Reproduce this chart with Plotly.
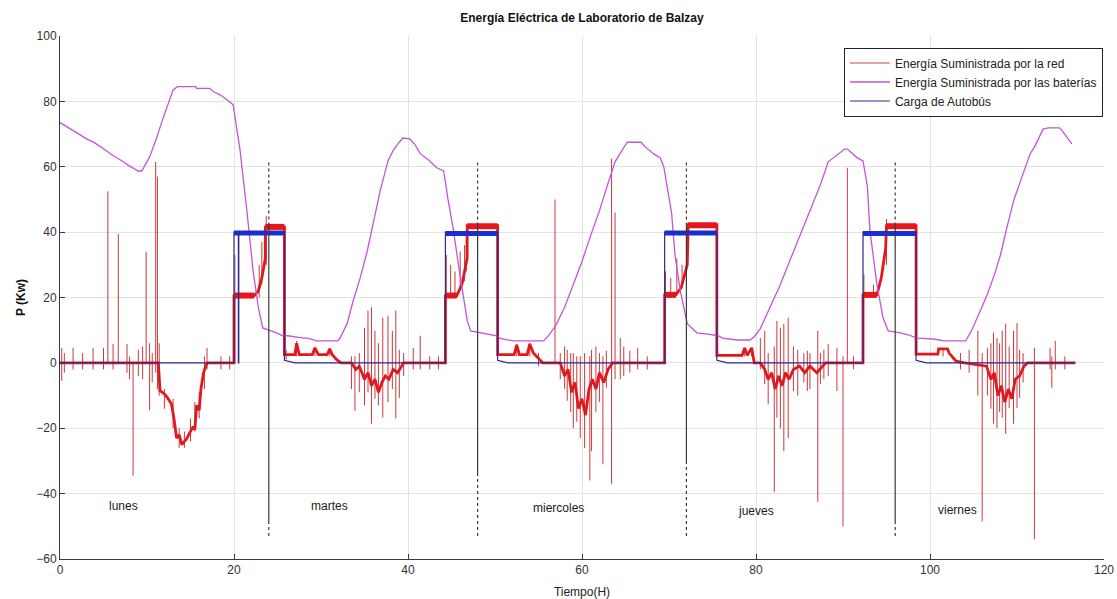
import plotly.graph_objects as go

# ---------------- data ----------------
# Energy supplied by the batteries (kW)
bat_t = [0, 1, 2, 3, 4, 5, 6, 7, 8, 9.0, 9.4, 10.3, 11.0, 11.8, 12.5, 13.0, 13.5, 15.6, 15.7, 17.2,
         17.6, 18.4, 19.2, 19.9, 20.3, 20.7, 21.5, 22.2, 22.8, 23.3, 24.0, 24.9, 25.6, 26.2, 28.0, 28.5,
         29.5, 31.9, 32.2, 33.0, 33.7, 34.5, 35.3, 36.0, 36.8, 37.7, 38.3, 39.0, 39.4, 40.2, 40.8, 41.4,
         42.4, 43.3, 44.1, 44.6, 45.2, 45.8, 46.4, 46.8, 47.2, 48.2, 49.2, 50.2, 50.6, 52.1, 55.6, 56.2,
         57.0, 58.0, 59.0, 60.0, 61.0, 62.0, 63.0, 63.8, 64.6, 65.2, 66.8, 67.3, 68.2, 69.0,
         69.4, 70.3, 70.7, 71.3, 72.1, 73.2, 74.5, 75.6, 76.2, 77.8, 79.3, 79.8, 80.5, 81.6, 82.8, 83.7,
         84.7, 85.6, 86.6, 87.4, 88.3, 90.2, 90.5, 91.0, 91.6, 92.3, 92.8, 93.1, 93.9, 94.6, 95.2, 96.6,
         97.5, 98.5, 100.4, 101.6, 104.1, 104.8, 105.4, 106.6, 107.4, 108.1, 108.8, 109.6, 110.4, 111.0,
         111.5, 112.0, 112.6, 113.0, 113.6, 114.9, 115.2, 115.7, 116.3]
bat_p = [73.5, 72.0, 70.3, 68.6, 67.3, 65.5, 63.6, 62.0, 60.2, 58.7, 58.7, 63.0, 68.0, 74.5, 79.5, 83.5, 84.5, 84.5, 84.0, 84.0,
         83.0, 82.0, 80.5, 79.0, 72.0, 65.0, 46.0, 28.0, 17.0, 10.7, 10.0, 9.2, 8.3, 8.3, 7.6, 7.6,
         6.7, 6.7, 7.6, 12.0, 19.0, 26.0, 34.0, 43.0, 52.6, 61.8, 65.0, 67.5, 68.8, 68.5, 66.8, 64.0,
         62.0, 59.7, 58.7, 50.0, 41.0, 30.0, 19.0, 13.0, 9.8, 9.3, 8.8, 8.3, 7.5, 6.7, 6.7, 8.5,
         11.5, 17.0, 24.0, 31.0, 39.0, 46.5, 55.0, 61.5, 65.0, 67.5, 67.5, 66.0, 64.0, 62.7,
         60.0, 45.8, 32.7, 22.0, 12.0, 9.2, 8.8, 8.3, 7.6, 7.0, 7.0, 8.0, 10.5, 17.0, 24.0, 30.0,
         36.5, 42.5, 49.0, 54.5, 61.5, 65.4, 65.4, 64.2, 62.8, 61.8, 54.0, 40.4, 24.0, 13.8, 9.8, 9.2,
         8.6, 7.6, 7.3, 6.7, 6.7, 10.0, 13.8, 21.0, 27.0, 33.0, 41.0, 49.5, 55.6, 60.0,
         63.9, 66.0, 69.5, 71.5, 71.9, 71.9, 71.0, 69.0, 67.0]

# Bus charging load (kW)
load_t = [0, 20.0, 20.0, 20.5, 20.5, 20.55, 20.55, 25.8, 25.8, 27.0, 44.3, 44.3, 50.3, 50.3, 51.5,
          69.5, 69.5, 75.5, 75.5, 76.7, 92.3, 92.3, 98.4, 98.4, 99.6, 116.7]
load_p = [0, 0, 40.0, 40.0, 0, 0, 40.0, 40.0, 0.8, 0, 0, 40.0, 40.0, 0.8, 0,
          0, 40.0, 40.0, 0.8, 0, 0, 40.0, 40.0, 0.8, 0, 0]
# noisy 40 kW plateau while the bus is charging
plateau_start = [20.0, 44.3, 69.5, 92.3]
plateau_end = [25.8, 50.3, 75.5, 98.4]
plateau_level = [39.7, 39.6, 39.7, 39.6]

# Energy supplied by the grid (kW): slow trend
grid_t = [0, 11.3, 11.5, 12.0, 12.3, 12.8, 13.1, 13.4, 13.7, 14.0, 14.3, 14.5, 14.9, 15.3, 15.5, 15.7,
          16.0, 16.2, 16.5, 16.9, 20.0,
          20.0, 22.3, 22.8, 23.2, 23.6, 23.6, 25.8, 25.8, 27.0, 27.2, 27.5, 29.0, 29.3, 29.7, 30.7,
          31.0, 31.3, 31.8, 32.3, 33.5, 34.0, 34.4, 35.0, 35.4, 35.8, 36.2, 36.6, 37.0, 37.4, 37.8,
          38.3, 38.8, 39.5, 44.3,
          44.3, 45.6, 46.2, 46.8, 46.8, 50.3, 50.3, 52.2, 52.5, 52.8, 53.7, 54.0, 54.4, 55.5, 57.5,
          58.0, 58.4, 58.8, 59.2, 59.6, 60.0, 60.4, 60.8, 61.2, 61.6, 62.0, 62.5, 63.0, 63.5, 69.5,
          69.5, 70.8, 71.4, 72.1, 72.2, 75.5, 75.5, 78.4, 78.7, 79.0, 79.5, 79.8, 80.5,
          81.0, 81.4, 81.8, 82.2, 82.6, 83.0, 83.4, 83.8, 84.3, 85.0, 85.6, 86.2, 87.0, 88.0, 92.3,
          92.3, 93.9, 94.4, 94.9, 95.0, 98.4, 98.4, 100.9, 101.0, 102.0, 102.2, 103.0, 104.0,
          106.5, 107.0, 107.4, 107.8, 108.2, 108.6, 109.0, 109.4, 109.8, 110.3, 110.8, 111.2, 116.7]
grid_p = [0, 0, -8.5, -9.5, -10.5, -12.5, -17.0, -23.0, -22.0, -25.0, -24.0, -23.5, -21.5, -19.5, -20.5, -13.0,
          -14.5, -8.0, -3.0, 0, 0,
          20.5, 20.5, 22.0, 26.0, 32.0, 41.5, 41.5, 2.5, 2.5, 6.0, 2.5, 2.5, 4.6, 2.5, 2.5,
          4.3, 2.5, 1.0, 0, 0, -2.0, -1.0, -5.0, -3.0, -7.0, -5.0, -9.0, -6.0, -4.0, -5.0,
          -2.0, -3.0, 0, 0,
          20.5, 20.5, 24.0, 32.0, 42.0, 42.0, 2.5, 2.5, 5.5, 2.5, 2.5, 5.8, 3.0, 0, 0,
          -4.0, -2.0, -9.0, -6.0, -14.0, -11.0, -16.0, -8.0, -5.0, -8.0, -3.0, -6.0, -2.0, 0, 0,
          20.8, 20.8, 23.0, 30.0, 42.3, 42.3, 2.3, 2.3, 4.6, 2.3, 4.6, 0, 0,
          -2.0, -5.0, -3.0, -8.0, -4.0, -7.0, -3.0, -5.0, -2.0, -1.0, -3.0, -1.0, -3.0, 0, 0,
          20.8, 20.8, 26.0, 35.0, 42.0, 42.0, 2.7, 2.7, 4.3, 4.3, 3.0, 0.5, 0,
          -1.0, -5.0, -3.0, -10.0, -7.0, -12.0, -8.0, -11.0, -5.0, -4.0, -1.0, 0, 0]
# grid plateau bands while the bus charges
grid_band_start = [20.0, 23.6, 44.3, 46.8, 69.5, 72.2, 92.3, 95.0]
grid_band_end = [22.3, 25.8, 45.6, 50.3, 70.8, 75.5, 93.9, 98.4]
grid_band_level = [20.6, 41.6, 20.6, 41.8, 20.8, 42.1, 20.8, 41.8]

# Grid transients: time, lower end, upper end (kW)
spike_t = [0.2, 0.5, 1.5, 2.6, 3.8, 5.0, 5.5, 6.1, 6.7, 7.7, 8.0, 8.4, 9.0, 9.5, 9.9, 10.3, 10.6,
           11.0, 11.2, 11.4, 12.0, 13.0, 13.7, 14.3, 15.0, 15.5, 16.0, 16.6, 16.9, 18.5, 19.5,
           20.1, 22.9, 23.2, 23.7,
           26.0, 27.2, 29.3, 31.0, 33.5, 33.9, 34.4, 35.0, 35.4, 35.8, 36.2, 36.6, 37.1, 37.7,
           38.2, 38.6, 39.0, 39.5, 40.6, 41.4, 42.5, 43.5,
           44.4, 44.9, 45.4, 46.0, 46.5, 46.7,
           52.5, 54.0, 55.0,
           56.9, 57.5, 58.0, 58.3, 58.7, 59.0, 59.4, 59.8, 60.3, 60.9, 61.1, 61.6, 62.0, 62.4,
           62.8, 63.4, 63.8, 64.4, 64.8, 65.5, 66.4, 67.5,
           69.6, 70.2, 70.9, 71.5,
           78.7, 79.5,
           80.5, 81.0, 81.4, 82.1, 82.4, 82.8, 83.2, 83.7, 84.3, 84.8, 85.5, 85.9, 86.2, 87.1,
           87.4, 87.8, 88.3, 89.3, 90.0, 90.5, 91.2,
           92.4, 93.5, 95.0,
           101.5,
           103.5, 104.5, 105.5, 106.0, 106.6, 107.0, 107.3, 107.7, 108.0, 108.3, 108.7, 109.1,
           109.6, 110.0, 110.3, 110.7, 112.0, 113.8, 114.0, 114.4, 115.5]
spike_lo = [-5.5, -3.0, -2.0, -2.0, -2.0, -2.0, 0, -2.0, 0, -3.0, -5.0, -34.5, -4.0, -5.0, 0, -14.5, -6.0,
            -3.0, -8.0, -10.0, -14.0, -20.0, -26.0, -26.0, -24.0, -21.0, -17.0, -8.0, -2.0, -2.0, -2.0,
            0, 20.0, 24.0, 30.0,
            1.0, 2.0, 2.0, 2.0, -8.0, -14.7, -9.0, -13.0, -9.0, -18.6, -11.0, -13.0, -16.7, -12.0,
            -8.0, -17.0, -10.7, -4.0, -2.0, -2.0, -2.0, -2.0,
            20.0, 20.0, 20.0, 22.0, 25.0, 28.0,
            2.0, 2.0, -1.0,
            0, -5.0, -8.0, -11.6, -15.0, -19.9, -18.0, -23.0, -26.0, -36.0, -27.0, -15.0, -12.0, -31.0,
            -7.6, -37.0, -5.0, -5.0, -4.0, -3.0, -2.0, -2.0,
            20.0, 20.0, 21.0, 23.0,
            2.0, 2.0,
            -2.0, -6.5, -12.6, -39.5, -16.8, -20.0, -27.0, -23.0, -8.6, -10.0, -6.0, -8.6, -8.0, -42.5,
            -6.5, -5.0, -4.0, -8.6, -50.0, 0, -2.0,
            20.0, 20.0, 30.0,
            2.0,
            -2.0, -3.0, -10.0, -48.5, -10.0, -14.0, -18.6, -20.0, -15.0, -16.8, -21.7, -13.8,
            -18.6, -13.8, -10.7, -6.0, -54.0, -2.0, -7.6, -2.0, -2.0]
spike_hi = [4.6, 3.0, 4.6, 3.0, 4.6, 4.6, 52.5, 5.8, 39.5, 5.8, 2.0, 0, 4.0, 5.0, 34.0, 6.0, 3.0,
            61.5, 57.0, 6.0, -8.0, -11.0, -20.0, -21.0, -17.0, -12.0, -9.0, 2.0, 4.6, 2.0, 2.0,
            33.0, 30.0, 37.0, 45.0,
            4.0, 6.7, 4.6, 4.3, 2.0, 2.0, 3.0, 10.7, 16.0, 17.0, 9.8, 6.0, 13.8, 14.4,
            9.8, 16.0, 4.0, 3.0, 4.6, 8.3, 2.0, 2.0,
            33.0, 30.0, 28.0, 34.0, 36.0, 38.0,
            5.8, 6.0, 3.0,
            50.0, 3.0, 5.0, 4.0, 3.0, 3.0, 2.0, 2.0, 3.0, 2.0, 4.0, 5.0, 3.0, 2.0,
            3.7, 62.5, 46.0, 7.6, 5.0, 3.7, 4.6, 2.0,
            28.0, 26.0, 32.0, 30.0,
            4.6, 4.6,
            7.6, 9.8, 3.0, 5.0, 12.8, 10.7, 11.9, 13.8, 5.0, 4.0, 3.0, 3.7, 3.0, 9.8,
            3.0, 4.0, 5.8, 4.6, 2.0, 59.7, 2.0,
            27.0, 24.0, 44.0,
            4.6,
            3.0, 4.0, 9.8, 3.0, 4.6, 6.0, 9.2, 7.6, 6.0, 9.8, 12.0, 5.0,
            9.8, 12.2, 4.0, 3.0, 4.6, 4.6, 2.0, 6.7, 2.0]

# Day boundaries and labels
day_marks = [24, 48, 72, 96]
day_names = ["lunes", "martes", "miercoles", "jueves", "viernes"]
day_label_t = [7.3, 31.0, 57.3, 80.0, 103.2]
day_label_p = [-43.8, -43.8, -44.3, -45.3, -45.0]

# ---------------- figure ----------------
RED = "#e8161b"
RED_THIN = "rgba(195,35,40,0.9)"
PURPLE = "#c455d6"
BLUE = "#1530e0"
BLUE_THIN = "#2c2c8c"
DARK = "#3a3a3a"

fig = go.Figure()

# grid energy: trend, plateaus and transients
fig.add_trace(go.Scatter(x=grid_t, y=grid_p, mode="lines", line=dict(color=RED, width=2.8),
                         showlegend=False, hoverinfo="skip"))
bx, by = [], []
for s, e, lv in zip(grid_band_start, grid_band_end, grid_band_level):
    bx += [s, e, None]
    by += [lv, lv, None]
fig.add_trace(go.Scatter(x=bx, y=by, mode="lines", line=dict(color=RED, width=6),
                         showlegend=False, hoverinfo="skip"))
sx, sy = [], []
for t, lo, hi in zip(spike_t, spike_lo, spike_hi):
    sx += [t, t, None]
    sy += [lo, hi, None]
fig.add_trace(go.Scatter(x=sx, y=sy, mode="lines", line=dict(color=RED_THIN, width=1),
                         showlegend=False, hoverinfo="skip"))
# legend entry for the grid
fig.add_trace(go.Scatter(x=[None], y=[None], mode="lines", name="Energía Suministrada por la red",
                         line=dict(color="#c24a4a", width=1.2)))

# batteries
fig.add_trace(go.Scatter(x=bat_t, y=bat_p, mode="lines", name="Energía Suministrada por las baterías",
                         line=dict(color=PURPLE, width=1.3)))

# bus load
px_, py_ = [], []
for s, e, lv in zip(plateau_start, plateau_end, plateau_level):
    px_ += [s, e, None]
    py_ += [lv, lv, None]
fig.add_trace(go.Scatter(x=px_, y=py_, mode="lines", line=dict(color=BLUE, width=5),
                         showlegend=False, hoverinfo="skip"))
fig.add_trace(go.Scatter(x=load_t, y=load_p, mode="lines", name="Carga de Autobús",
                         line=dict(color=BLUE_THIN, width=1.2)))

# day boundary markers: solid core with dotted ends
solid_lo = [-49, -34, -30, -49]
for d, lo in zip(day_marks, solid_lo):
    fig.add_trace(go.Scatter(x=[d, d], y=[lo, 42], mode="lines", line=dict(color=DARK, width=1.2),
                             showlegend=False, hoverinfo="skip"))
    fig.add_trace(go.Scatter(x=[d, d, None, d, d], y=[42, 62, None, -53, lo], mode="lines",
                             line=dict(color=DARK, width=1.2, dash="dot"),
                             showlegend=False, hoverinfo="skip"))

for name, t, p in zip(day_names, day_label_t, day_label_p):
    fig.add_annotation(x=t, y=p, text=name, showarrow=False, xanchor="center", yanchor="middle",
                       font=dict(size=12, color="#1a1a1a"))

FONT = "Liberation Sans, Arial, sans-serif"
fig.update_layout(
    width=1117, height=599,
    margin=dict(l=60, r=13, t=36, b=40, autoexpand=False),
    paper_bgcolor="white", plot_bgcolor="white",
    font=dict(family=FONT, size=12, color="#333333"),
    title=dict(text="<b>Energía Eléctrica de Laboratorio de Balzay</b>", x=0.5, xref="paper",
               y=1 - 18 / 599, yref="container", yanchor="middle",
               font=dict(size=12, color="#111111")),
    legend=dict(x=0.999, xanchor="right", y=0.978, yanchor="top", bgcolor="white",
                bordercolor="#222222", borderwidth=1, font=dict(size=12, color="#222222"),
                tracegroupgap=0, itemwidth=40),
    showlegend=True,
)
fig.update_xaxes(range=[0, 120], dtick=20, showgrid=True, gridcolor="#e3e3e3", gridwidth=1,
                 zeroline=False, showline=True, linecolor=DARK, linewidth=1, mirror=False,
                 ticks="inside", ticklen=5, tickcolor=DARK, automargin=False,
                 title=dict(text="Tiempo(H)", standoff=14, font=dict(size=12, color="#222222")))
fig.update_yaxes(range=[-60, 100], dtick=20, showgrid=True, gridcolor="#e3e3e3", gridwidth=1,
                 zeroline=False, showline=True, linecolor=DARK, linewidth=1, mirror=False,
                 ticks="inside", ticklen=5, tickcolor=DARK, automargin=False,
                 title=dict(text="<b>P (Kw)</b>", standoff=8, font=dict(size=12, color="#111111")))

fig.write_html("out.html")
